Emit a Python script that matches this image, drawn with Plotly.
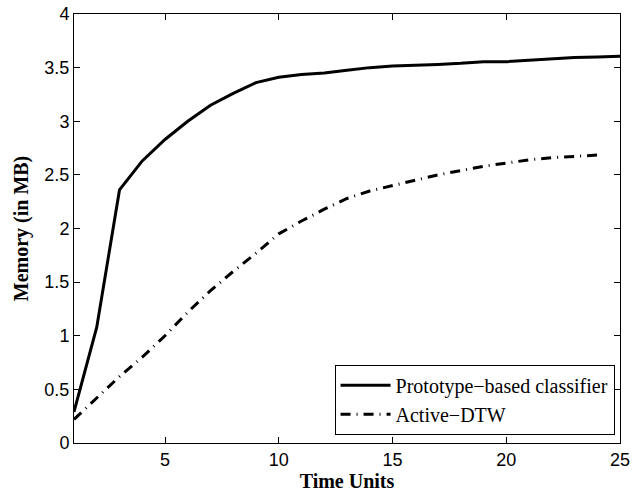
import plotly.graph_objects as go

time_units = list(range(1, 26))
prototype = [0.29, 1.08, 2.36, 2.63, 2.83, 3.00, 3.15, 3.26, 3.36, 3.41, 3.435, 3.45,
             3.475, 3.50, 3.515, 3.52, 3.53, 3.54, 3.555, 3.555, 3.57, 3.585, 3.595, 3.60, 3.605]
dtw_x = list(range(1, 25))
active_dtw = [0.22, 0.42, 0.62, 0.80, 1.00, 1.22, 1.42, 1.60, 1.77, 1.95, 2.07, 2.18,
              2.28, 2.35, 2.40, 2.45, 2.50, 2.54, 2.58, 2.61, 2.64, 2.66, 2.67, 2.685]

fig = go.Figure()
fig.add_trace(go.Scatter(x=time_units, y=prototype, mode="lines",
                         name="Prototype\u2212based classifier",
                         line=dict(color="black", width=3)))
fig.add_trace(go.Scatter(x=dtw_x, y=active_dtw, mode="lines",
                         name="Active\u2212DTW",
                         line=dict(color="black", width=3, dash="10px,6px,1px,6px")))

axis_common = dict(showgrid=False, zeroline=False, showline=True, linecolor="black",
                   linewidth=1, mirror="ticks", ticks="inside", ticklen=6,
                   tickcolor="black", automargin=False,
                   tickfont=dict(family="Liberation Sans, Arial", size=18, color="black"))

title_font = dict(family="Liberation Serif, Times New Roman", size=20, color="black")

fig.update_xaxes(range=[1, 25], tickvals=[5, 10, 15, 20, 25],
                 title=dict(text="<b>Time Units</b>", font=title_font, standoff=2),
                 **axis_common)
fig.update_yaxes(range=[0, 4], dtick=0.5, tickformat="~g",
                 title=dict(text="<b>Memory (in MB)</b>", font=title_font, standoff=10),
                 **axis_common)

fig.update_layout(
    width=639, height=495,
    margin=dict(l=74, r=19, t=14, b=52),
    plot_bgcolor="white", paper_bgcolor="white",
    legend=dict(x=0.99, y=0.019, xanchor="right", yanchor="bottom",
                bgcolor="white", bordercolor="black", borderwidth=1,
                font=dict(family="Liberation Serif, Times New Roman", size=20, color="black"),
                tracegroupgap=0, itemwidth=50),
)

fig.write_html("out.html",
               config={"displayModeBar": False},
               post_script="document.body.style.margin='0px';document.body.style.overflow='hidden';")
